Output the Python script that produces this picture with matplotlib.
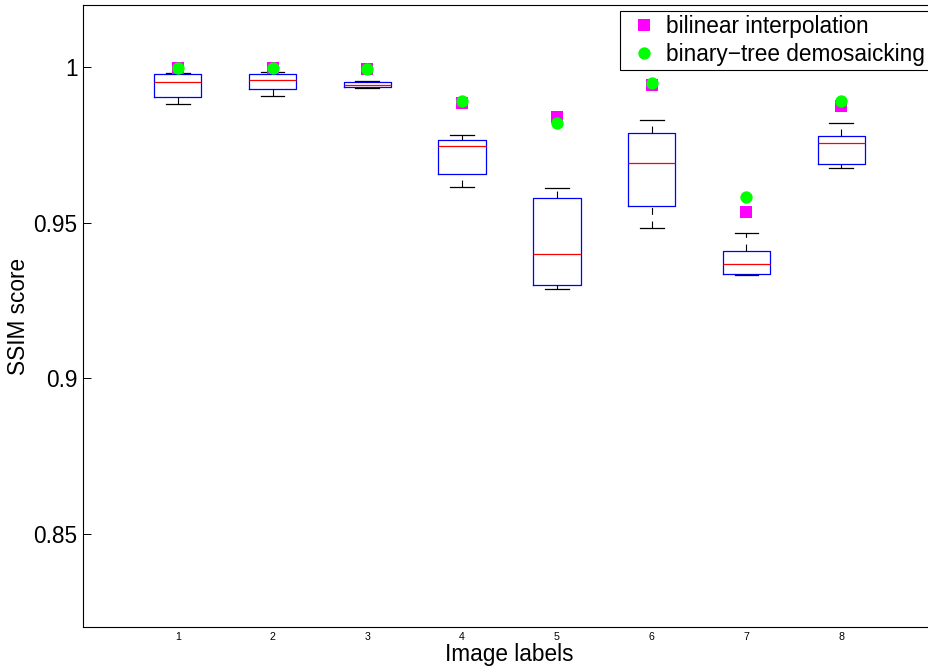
import matplotlib
matplotlib.use("Agg")
import matplotlib.pyplot as plt

plt.rcParams['font.family'] = ['Liberation Sans', 'DejaVu Sans']
plt.rcParams['lines.scale_dashes'] = False

# Per-image SSIM distributions (box statistics) and the two reference methods
image_labels = ['1', '2', '3', '4', '5', '6', '7', '8']
whisker_low = [0.98810, 0.99077, 0.99325, 0.96161, 0.92871, 0.94842, 0.93312, 0.96772]
quartile_1 = [0.99035, 0.99293, 0.99357, 0.96569, 0.93010, 0.95550, 0.93344, 0.96900]
medians = [0.99518, 0.99601, 0.99441, 0.97460, 0.93987, 0.96913, 0.93666, 0.97576]
quartile_3 = [0.99785, 0.99794, 0.99518, 0.97653, 0.95788, 0.97887, 0.94093, 0.97791]
whisker_high = [0.99817, 0.99849, 0.99550, 0.97814, 0.96129, 0.98296, 0.94682, 0.98199]

bilinear = [0.99968, 0.99968, 0.99945, 0.98836, 0.98392, 0.99431, 0.95357, 0.98756]
binary_tree = [0.99968, 0.99968, 0.99945, 0.98926, 0.98219, 0.99486, 0.95839, 0.98926]

W, H = 929, 667
fig = plt.figure(figsize=(W / 100, H / 100), dpi=100)
ax = fig.add_axes([83 / W, 40 / H, 853 / W, 622 / H])

positions = list(range(1, len(image_labels) + 1))
stats = [dict(med=m, q1=a, q3=b, whislo=lo, whishi=hi, label=l)
         for m, a, b, lo, hi, l in zip(medians, quartile_1, quartile_3,
                                       whisker_low, whisker_high, image_labels)]

bp = ax.bxp(stats, positions=positions, widths=0.5, capwidths=0.25,
            showfliers=False,
            boxprops=dict(color='blue', lw=0.9),
            medianprops=dict(color='red', lw=0.9),
            whiskerprops=dict(color='black', lw=0.8, linestyle=(0, (5.0, 4.8))),
            capprops=dict(color='black', lw=0.9))
# lower whiskers run from the lower adjacent value up to the box
for w in bp['whiskers'][0::2]:
    w.set_ydata(w.get_ydata()[::-1])

ax.plot(positions, bilinear, 's', color='magenta', ms=8.1, mew=0,
        label='bilinear interpolation')
ax.plot(positions, binary_tree, 'o', color=(0, 1, 0), ms=8.9, mew=0,
        label='binary\u2212tree demosaicking')

ax.set_xlim(0, 9)
ax.set_ylim(0.82, 1.02)
ax.set_yticks([0.85, 0.9, 0.95, 1.0])
ax.set_yticklabels(['0.85', '0.9', '0.95', '1'])
ax.set_xticks(positions)
ax.set_xticklabels(image_labels, fontsize=7.7)
ax.tick_params(axis='x', length=0, pad=3.4)
ax.tick_params(axis='y', direction='in', length=5.8, width=0.7,
               left=True, right=True, labelsize=16.3, pad=4)
for s in ax.spines.values():
    s.set_linewidth(0.8)
    s.set_color('black')

ax.set_xlabel('Image labels', fontsize=16.3)
ax.set_ylabel('SSIM score', fontsize=16.3)
ax.xaxis.set_label_coords(0.5, -0.0263)
ax.yaxis.set_label_coords(-0.0625, 0.5)

leg = ax.legend(loc='upper right', bbox_to_anchor=(928.5 / W, 1 - 11.3 / H),
                bbox_transform=fig.transFigure, borderaxespad=0,
                fontsize=16.3, frameon=True, fancybox=False, edgecolor='black',
                framealpha=1, borderpad=0.17, handlelength=1.8,
                handletextpad=0.05, labelspacing=0.2, numpoints=1)
leg.get_frame().set_linewidth(0.8)

fig.savefig('out.png', dpi=100)
